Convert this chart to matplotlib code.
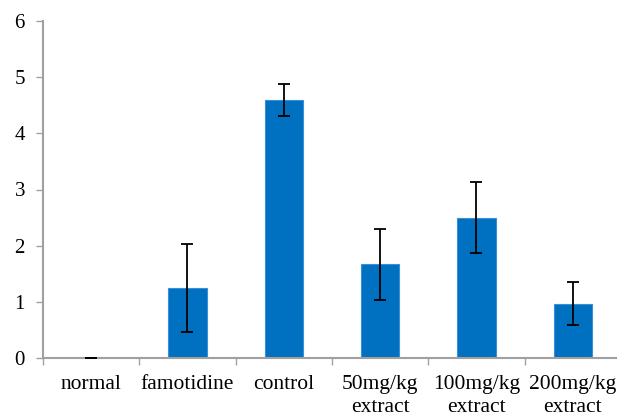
import matplotlib
matplotlib.use("Agg")
import matplotlib.pyplot as plt
import numpy as np

categories = ["normal", "famotidine", "control", "50mg/kg\nextract", "100mg/kg\nextract", "200mg/kg\nextract"]
values = [0.0, 1.25, 4.59, 1.67, 2.50, 0.97]
errors = [0.0, 0.78, 0.29, 0.63, 0.63, 0.39]

plt.rcParams["font.family"] = ["Liberation Serif", "DejaVu Serif"]

fig = plt.figure(figsize=(6.17, 4.17), dpi=100)
# axes run a bit past the right edge, as in the original
ax = fig.add_axes([43 / 617, (417 - 358) / 417, 578 / 617, (358 - 21) / 417])

x = np.arange(len(categories))
ax.bar(x, values, width=0.4, color="#0070C0", edgecolor="#3b8fd6", linewidth=0.8, zorder=2)
ax.errorbar(x, values, yerr=errors, fmt="none", ecolor="black", elinewidth=1.3,
            capsize=4.3, capthick=1.3, zorder=3)

ax.set_ylim(0, 6)
ax.set_xlim(-0.5, len(categories) - 0.5)
ax.set_yticks(range(0, 7))
ax.tick_params(axis="y", labelsize=15, length=5, width=1, color="#a0a0a0", pad=8)

# category ticks sit between bars; labels centred under bars
ax.set_xticks(np.arange(-0.5, len(categories), 1.0))
ax.set_xticklabels([])
ax.set_xticks(x, minor=True)
ax.set_xticklabels(categories, minor=True, fontsize=15.5, linespacing=1.3)
ax.tick_params(axis="x", which="major", length=5, width=1, color="#a0a0a0")
ax.tick_params(axis="x", which="minor", length=0, pad=12)
for lbl in ax.get_xticklabels(minor=True):
    lbl.set_verticalalignment("top")

for s in ["top", "right"]:
    ax.spines[s].set_visible(False)
for s in ["left", "bottom"]:
    ax.spines[s].set_color("#a0a0a0")
    ax.spines[s].set_linewidth(1.5)

fig.savefig("out.png", dpi=100)
